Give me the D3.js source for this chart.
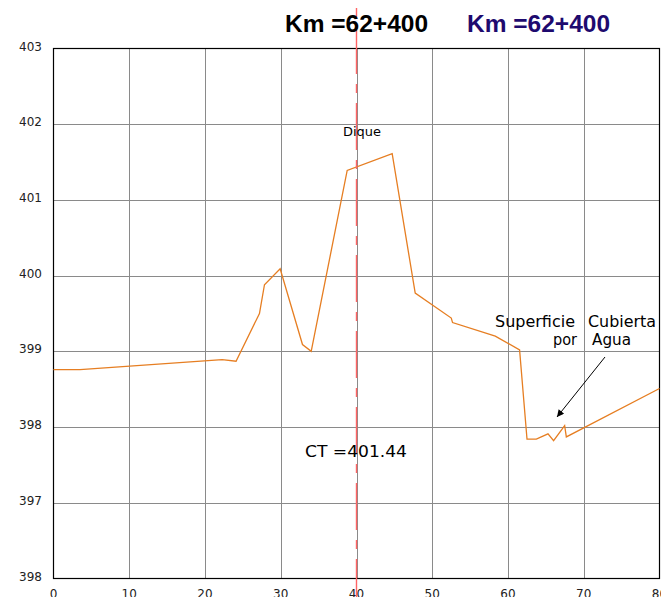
<!DOCTYPE html>
<html><head><meta charset="utf-8">
<script src="https://cdn.jsdelivr.net/npm/d3@7/dist/d3.min.js"></script>
<style>html,body{margin:0;padding:0;background:#fff;overflow:hidden}</style>
</head><body>
<script>
// Data
const stations = [0, 3.5, 22.26, 24.1, 27.19, 27.85, 29.92, 32.87, 34.02, 38.77, 44.71, 47.75, 52.51, 52.68, 58.32, 61.53, 62.51, 63.74, 65.28, 66.02, 67.48, 67.70, 80];
const elevations = [398.76, 398.76, 398.89, 398.87, 399.50, 399.88, 400.09, 399.09, 399.0, 401.39, 401.61, 399.77, 399.44, 399.38, 399.20, 399.02, 397.84, 397.84, 397.91, 397.82, 398.02, 397.87, 398.51];
const xTicks = [0, 10, 20, 30, 40, 50, 60, 70, 80];
const yTicks = [403, 402, 401, 400, 399, 398, 397, 396];
const yTickLabels = ["403", "402", "401", "400", "399", "398", "397", "398"];
const axisStation = 40;
const titleText = "Km =62+400";
const ctLabel = "CT =401.44";

const W = 661, H = 597;
const svg = d3.select("body").append("svg").attr("width", W).attr("height", H);

const x = d3.scaleLinear().domain([0, 80]).range([53.5, 659.5]);
const y = d3.scaleLinear().domain([396, 403]).range([578.5, 48.5]);

// grid
svg.append("g").selectAll("line.v").data(xTicks.slice(1, -1)).join("line")
  .attr("x1", d => Math.round(x(d)) + 0.5).attr("x2", d => Math.round(x(d)) + 0.5)
  .attr("y1", y(403)).attr("y2", y(396)).attr("stroke", "#8a8a8a").attr("stroke-width", 1);
svg.append("g").selectAll("line.h").data(yTicks.slice(1, -1)).join("line")
  .attr("x1", x(0)).attr("x2", x(80))
  .attr("y1", d => Math.round(y(d)) + 0.5).attr("y2", d => Math.round(y(d)) + 0.5)
  .attr("stroke", "#8a8a8a").attr("stroke-width", 1);

// frame
svg.append("rect").attr("x", x(0)).attr("y", y(403)).attr("width", x(80) - x(0)).attr("height", y(396) - y(403))
  .attr("fill", "none").attr("stroke", "#000").attr("stroke-width", 1.2);

// axis labels
svg.append("g").selectAll("text").data(yTicks).join("text")
  .attr("x", 42).attr("y", d => y(d) + 2).attr("text-anchor", "end")
  .attr("font-family", "DejaVu Sans, sans-serif").attr("font-size", 12).attr("fill", "#222")
  .text((d, i) => yTickLabels[i]);
svg.append("g").selectAll("text").data(xTicks).join("text")
  .attr("x", d => x(d)).attr("y", 598).attr("text-anchor", "middle")
  .attr("font-family", "DejaVu Sans, sans-serif").attr("font-size", 12).attr("fill", "#222")
  .text(d => d);

// profile line
const pts = stations.map((s, i) => [s, elevations[i]]);
svg.append("path").datum(pts)
  .attr("d", d3.line().x(d => x(d[0])).y(d => y(d[1])))
  .attr("fill", "none").attr("stroke", "#e67e22").attr("stroke-width", 1.3);

// red center axis
svg.append("line").attr("x1", x(axisStation)).attr("x2", x(axisStation)).attr("y1", 0).attr("y2", H)
  .attr("stroke", "#ff6464").attr("stroke-width", 1.4)
  .attr("stroke-dasharray", "47,10,9,10").attr("stroke-dashoffset", 49);

// titles
svg.append("text").attr("x", 285).attr("y", 32).attr("font-family", "Liberation Sans, Arial, sans-serif")
  .attr("font-weight", "bold").attr("font-size", 24).attr("fill", "#000")
  .attr("textLength", 143).attr("lengthAdjust", "spacingAndGlyphs").text(titleText);
svg.append("text").attr("x", 467).attr("y", 32).attr("font-family", "Liberation Sans, Arial, sans-serif")
  .attr("font-weight", "bold").attr("font-size", 24).attr("fill", "#1e0a6e")
  .attr("textLength", 143).attr("lengthAdjust", "spacingAndGlyphs").text(titleText);

// annotations
const ann = (tx, ty, txt, size, len) => svg.append("text").attr("x", tx).attr("y", ty)
  .attr("font-family", "DejaVu Sans, sans-serif")
  .attr("font-size", size).attr("fill", "#000")
  .attr("textLength", len).attr("lengthAdjust", "spacingAndGlyphs").text(txt);
ann(343, 136, "Dique", 13, 38);
ann(305, 457, ctLabel, 16, 102);
ann(495, 327, "Superficie", 16, 80);
ann(588, 327, "Cubierta", 16, 68);
ann(553, 345, "por", 16, 24);
ann(592, 345, "Agua", 16, 39);

// arrow
svg.append("defs").append("marker").attr("id", "ah").attr("viewBox", "0 0 10 10")
  .attr("refX", 10).attr("refY", 5).attr("markerWidth", 14).attr("markerHeight", 7)
  .attr("markerUnits", "userSpaceOnUse").attr("orient", "auto")
  .append("path").attr("d", "M0,0 L10,5 L0,10 Z").attr("fill", "#000");
svg.append("line").attr("x1", 605).attr("y1", 357).attr("x2", 557).attr("y2", 417)
  .attr("stroke", "#000").attr("stroke-width", 1).attr("marker-end", "url(#ah)");
</script>
</body></html>
